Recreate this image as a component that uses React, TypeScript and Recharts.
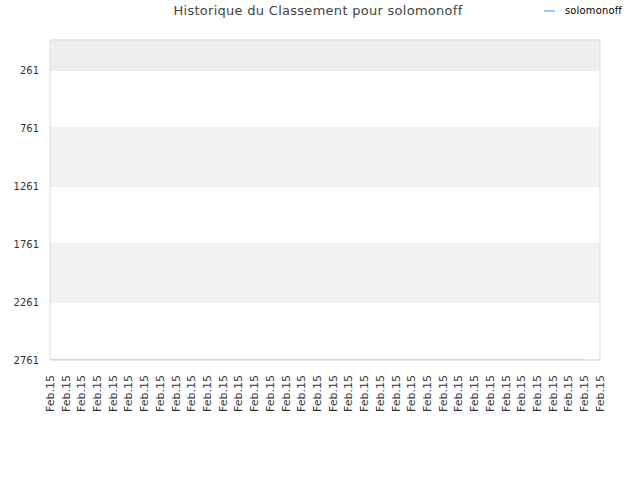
import React from "react";
import {
  LineChart,
  Line,
  XAxis,
  YAxis,
  CartesianGrid,
  ReferenceArea,
} from "recharts";

const categories: string[] = Array.from({ length: 36 }, () => "Feb.15");
const rankValues: (number | null)[] = [
  2761, 2761, 2761, 2761, 2761, 2761, 2761, 2761, 2761, 2761,
  2761, 2761, 2761, 2761, 2761, 2761, 2761, 2761, 2761, 2761,
  2761, 2761, 2761, 2761, 2761, 2761, 2761, 2761, 2761, 2761,
  2761, 2761, 2761, 2761, 2761, null,
];
const yTicks: number[] = [261, 761, 1261, 1761, 2261, 2761];
const yDomain: [number, number] = [1, 2761];
const bands: [number, number, string][] = [
  [1, 261, "#eeeeee"],
  [761, 1261, "#f2f2f2"],
  [1761, 2261, "#f2f2f2"],
];
const seriesName = "solomonoff";
const titleText = "Historique du Classement pour solomonoff";

const data = categories.map((c, i) => ({ idx: i, label: c, rank: rankValues[i] }));

const FONT = "'DejaVu Sans', Verdana, sans-serif";

const XTick = (props: any) => {
  const { x, y, payload } = props;
  return (
    <text
      x={x}
      y={y}
      transform={`rotate(-90 ${x} ${y})`}
      textAnchor="end"
      dy="0.35em"
      fontSize={11}
      fontFamily={FONT}
      fill="#333333"
    >
      {categories[payload.value]}
    </text>
  );
};

export default function App() {
  return (
    <div style={{ position: "absolute", left: 0, top: 0, width: 640, height: 480, background: "#fff" }}>
      <div
        style={{
          position: "absolute",
          left: 0,
          width: 636,
          top: 3,
          textAlign: "center",
          fontFamily: FONT,
          fontSize: 13,
          letterSpacing: "0.28px",
          color: "#444444",
          whiteSpace: "nowrap",
        }}
      >
        {titleText}
      </div>
      <div
        style={{
          position: "absolute",
          left: 544,
          top: 4,
          display: "flex",
          alignItems: "center",
          fontFamily: "'DejaVu Sans Condensed', 'DejaVu Sans', sans-serif",
          fontSize: 11,
          letterSpacing: "0.2px",
          color: "#000",
          whiteSpace: "nowrap",
        }}
      >
        <svg width={11} height={4} style={{ marginRight: 10 }}>
          <line x1={0} y1={2} x2={11} y2={2} stroke="#99ccff" strokeWidth={2} />
        </svg>
        <span>{seriesName}</span>
      </div>
      <div style={{ position: "absolute", left: 0, top: 0 }}>
        <LineChart
          width={640}
          height={480}
          data={data}
          margin={{ top: 40, right: 40, bottom: 0, left: 0 }}
        >
          {bands.map(([a, b, col], i) => (
            <ReferenceArea key={i} y1={a} y2={b} fill={col} fillOpacity={1} stroke="none" ifOverflow="visible" />
          ))}
          <CartesianGrid vertical={false} stroke="#e2e2e2" />
          <ReferenceArea y1={1} y2={2761} fill="none" stroke="#dddddd" strokeWidth={1} ifOverflow="visible" />
          <XAxis
            dataKey="idx"
            type="category"
            interval={0}
            tick={<XTick />}
            tickLine={false}
            axisLine={false}
            tickMargin={9}
            height={120}
          />
          <YAxis
            reversed
            domain={yDomain}
            ticks={yTicks}
            allowDataOverflow
            width={50}
            tickLine={false}
            axisLine={false}
            tickSize={0}
            tickMargin={11}
            tick={{ fontSize: 10, fontFamily: FONT, fill: "#333333" }}
          />
          <Line
            dataKey="rank"
            name={seriesName}
            stroke="#99ccff"
            strokeWidth={1.2}
            dot={false}
            isAnimationActive={false}
            connectNulls={false}
          />
        </LineChart>
      </div>
    </div>
  );
}
